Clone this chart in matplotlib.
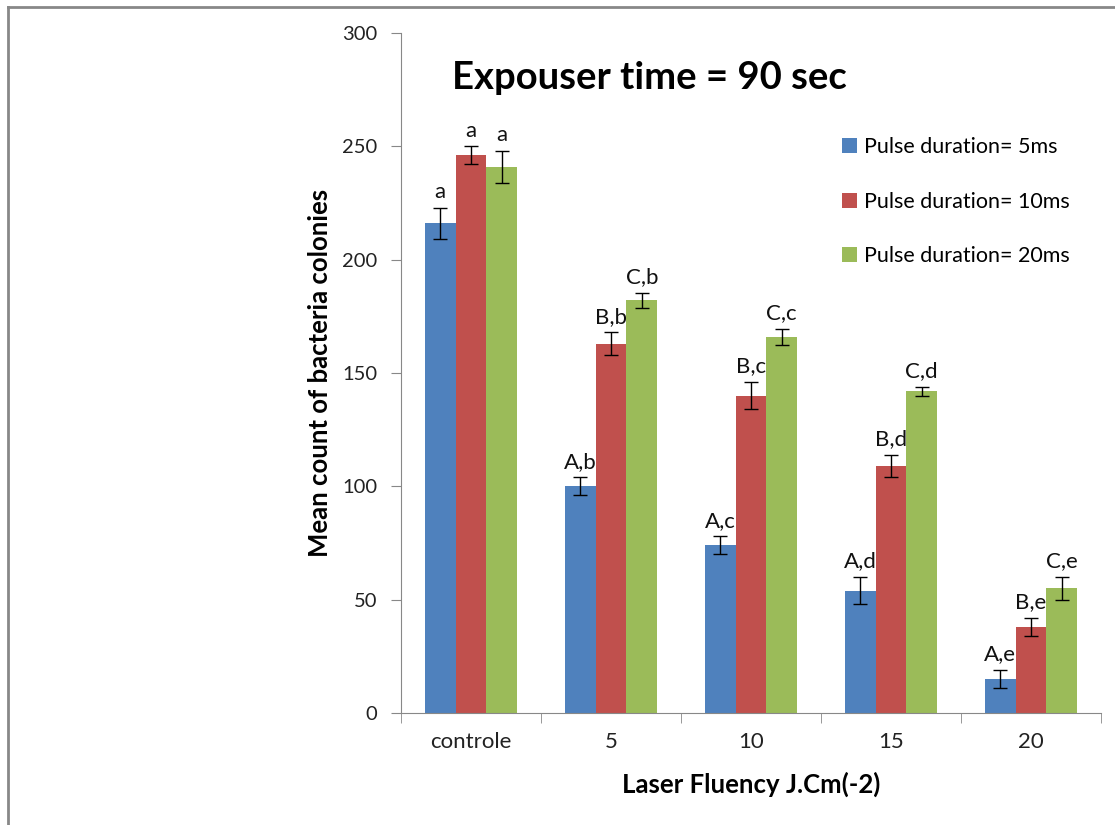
import numpy as np
import matplotlib
matplotlib.use('Agg')
import matplotlib.pyplot as plt
from matplotlib.lines import Line2D

# 数据
categories = ['controle', '5', '10', '15', '20']
series_names = ['Pulse duration= 5ms', 'Pulse duration= 10ms', 'Pulse duration= 20ms']
values_5ms = [216, 100, 74, 54, 15]
values_10ms = [246, 163, 140, 109, 38]
values_20ms = [241, 182, 166, 142, 55]
err_5ms = [7, 4, 4, 6, 4]
err_10ms = [4, 5, 6, 5, 4]
err_20ms = [7, 3.5, 3.5, 2, 5]
labels_5ms = ['a', 'A,b', 'A,c', 'A,d', 'A,e']
labels_10ms = ['a', 'B,b', 'B,c', 'B,d', 'B,e']
labels_20ms = ['a', 'C,b', 'C,c', 'C,d', 'C,e']

colors = ['#4F81BD', '#C0504D', '#9BBB59']
plt.rcParams['font.family'] = ['Lato', 'DejaVu Sans']

fig = plt.figure(figsize=(11.15, 8.25), dpi=100)
ax = fig.add_axes([0.3596, 0.1358, 0.9874 - 0.3596, 0.96 - 0.1358])

x = np.arange(len(categories))
width = 0.22
all_vals = [values_5ms, values_10ms, values_20ms]
all_errs = [err_5ms, err_10ms, err_20ms]
all_labels = [labels_5ms, labels_10ms, labels_20ms]

for i in range(3):
    pos = x + (i - 1) * width
    ax.bar(pos, all_vals[i], width, color=colors[i], label=series_names[i],
           yerr=all_errs[i], capsize=5,
           error_kw=dict(ecolor='black', elinewidth=1, capthick=1))
    for p, v, e, t in zip(pos, all_vals[i], all_errs[i], all_labels[i]):
        ax.annotate(t, (p, v + e), xytext=(0, 4), textcoords='offset points',
                    ha='center', va='bottom', fontsize=16, color='#111111')

ax.set_xlim(-0.5, 4.5)
ax.set_ylim(0, 300)
ax.set_yticks(range(0, 301, 50))
ax.set_xticks(x)
ax.set_xticklabels(categories)
ax.set_xticks(np.arange(-0.5, 4.6, 1), minor=True)
ax.tick_params(axis='x', which='major', length=0, pad=14, labelsize=16, labelcolor='#222222')
ax.tick_params(axis='x', which='minor', length=7, color='#888888', direction='out')
ax.tick_params(axis='y', length=7, color='#888888', direction='out', pad=10,
               labelsize=14.5, labelcolor='#222222')
for s in ['top', 'right']:
    ax.spines[s].set_visible(False)
for s in ['left', 'bottom']:
    ax.spines[s].set_color('#888888')

ax.set_xlabel('Laser Fluency J.Cm(-2)', fontsize=18.5, fontweight='bold', labelpad=14)
ax.set_ylabel('Mean count of bacteria colonies', fontsize=18.5, fontweight='bold', labelpad=7)

fig.text(0.405, 0.905, 'Expouser time = 90 sec', fontsize=27.5, fontweight='bold',
         ha='left', va='center')

leg = ax.legend(loc='upper left', bbox_to_anchor=(0.738, 0.857), bbox_transform=fig.transFigure,
                frameon=False, fontsize=15.5, handlelength=0.7, handleheight=0.7,
                handletextpad=0.3, labelspacing=1.6)

# 外框
fig.add_artist(Line2D([8 / 1115, 8 / 1115], [0, 1 - 7 / 825], color='#888888', lw=2))
fig.add_artist(Line2D([8 / 1115, 1], [1 - 7 / 825, 1 - 7 / 825], color='#888888', lw=2))

fig.savefig('out.png', dpi=100)
